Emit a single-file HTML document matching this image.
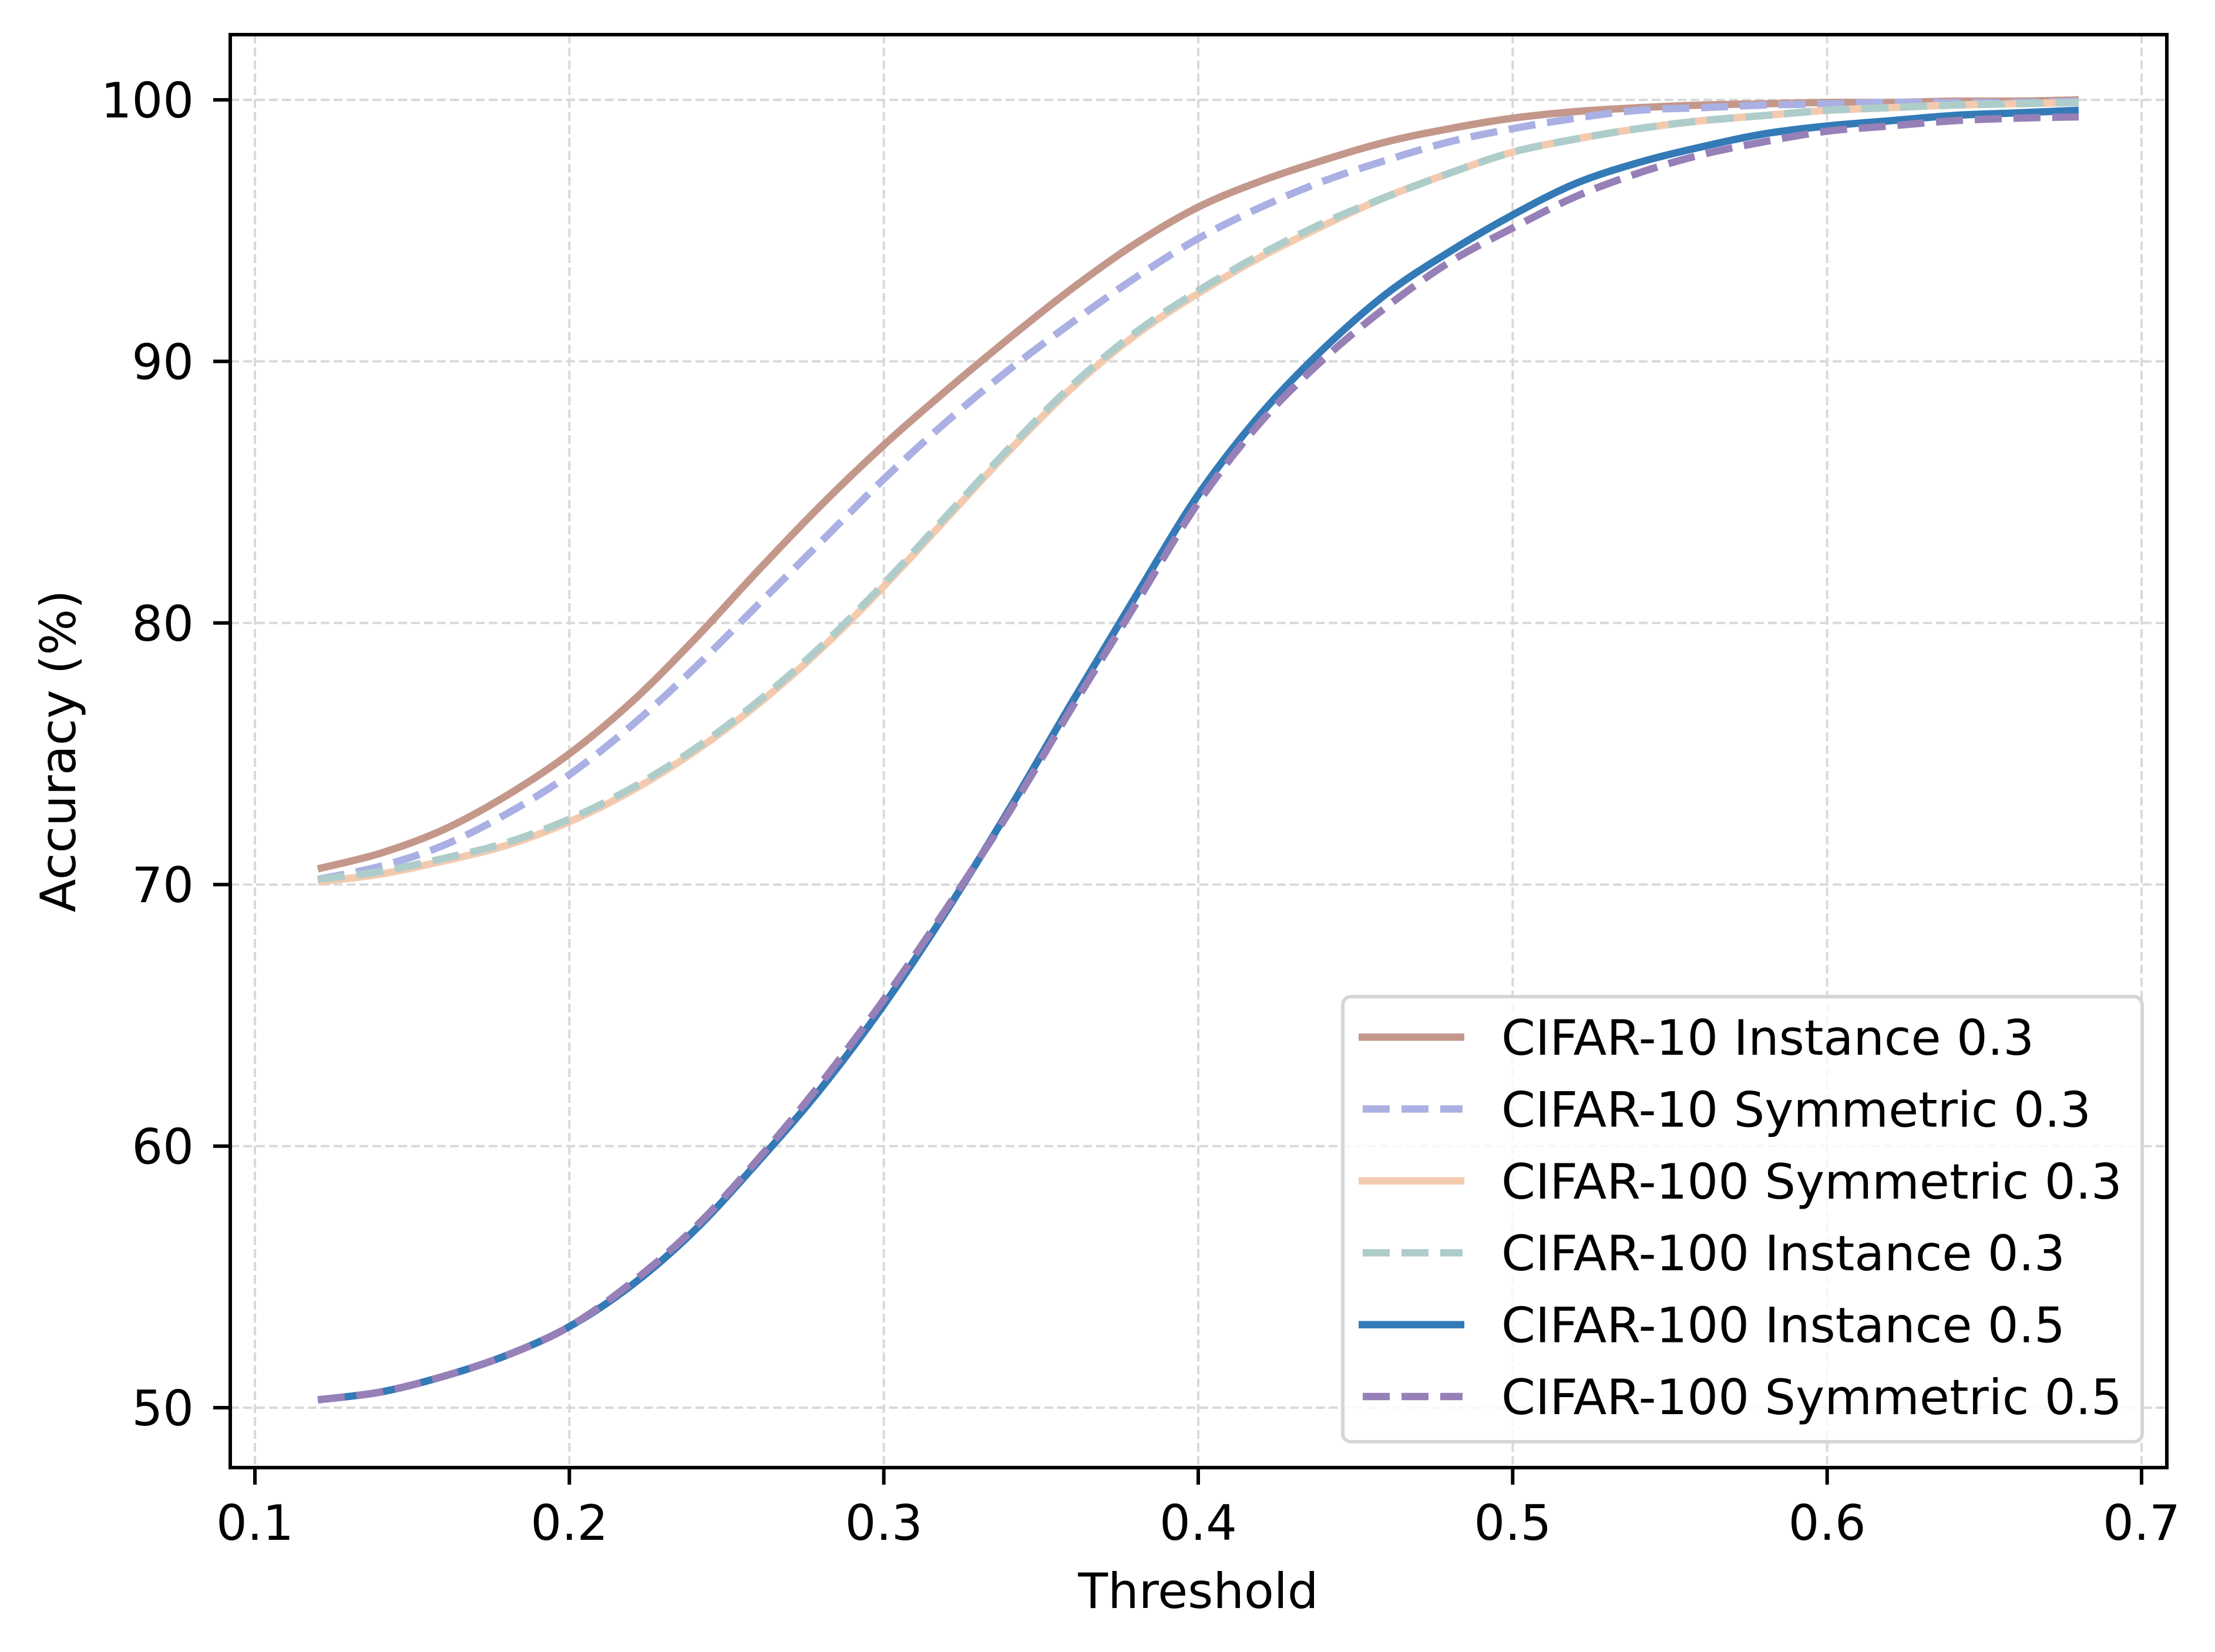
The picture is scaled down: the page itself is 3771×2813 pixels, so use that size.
<!DOCTYPE html>
<html><head><meta charset="utf-8"><style>
html,body{margin:0;padding:0;background:#fff;}
svg{display:block;font-family:"DejaVu Sans","Liberation Sans",sans-serif;}
</style></head><body>
<svg id="chart" width="3771" height="2813" viewBox="0 0 3771 2813" xmlns="http://www.w3.org/2000/svg">
<rect width="3771" height="2813" fill="#fff"/>
<g id="grid"></g>
<g id="series"></g>
<rect x="392" y="59" width="3297" height="2440" fill="none" stroke="#000" stroke-width="6"/>
<g id="ticks"></g>
<text x="2040" y="2738" font-size="83" text-anchor="middle">Threshold</text>
<text x="0" y="0" font-size="83" text-anchor="middle" transform="translate(128,1279) rotate(-90)">Accuracy (%)</text>
<g id="legend"></g>
</svg>
<script>
const xs = [0.12,0.14,0.16,0.18,0.20,0.22,0.24,0.26,0.28,0.30,0.32,0.34,0.36,0.38,0.40,0.42,0.44,0.46,0.48,0.50,0.52,0.54,0.56,0.58,0.60,0.62,0.64,0.66,0.68];
const c10Inst03 = [70.6,71.2,72.1,73.4,75.0,77.0,79.4,82.0,84.5,86.8,88.9,90.9,92.8,94.5,95.9,96.9,97.7,98.4,98.9,99.3,99.55,99.7,99.8,99.85,99.9,99.9,99.95,99.95,100.0];
const c10Sym03 = [70.2,70.7,71.5,72.7,74.2,76.1,78.3,80.7,83.1,85.5,87.7,89.7,91.5,93.2,94.7,95.9,96.9,97.7,98.4,98.9,99.3,99.6,99.7,99.8,99.85,99.9,99.9,99.9,99.95];
const c100Sym03 = [70.1,70.4,70.9,71.5,72.4,73.6,75.1,76.9,79.0,81.4,84.0,86.6,89.0,91.0,92.6,94.0,95.2,96.3,97.2,98.0,98.5,98.9,99.2,99.4,99.6,99.7,99.8,99.85,99.9];
const c100Inst03 = [70.2,70.5,71.0,71.6,72.5,73.7,75.2,77.0,79.1,81.5,84.1,86.7,89.1,91.1,92.7,94.1,95.3,96.3,97.2,98.0,98.5,98.9,99.2,99.4,99.6,99.7,99.8,99.85,99.9];
const c100Inst05 = [50.3,50.6,51.2,52.0,53.1,54.7,56.8,59.4,62.2,65.4,69.0,72.9,77.0,81.0,84.9,88.0,90.5,92.6,94.2,95.6,96.8,97.6,98.2,98.7,99.0,99.2,99.4,99.5,99.6];
const c100Sym05 = [50.3,50.6,51.2,52.0,53.1,54.8,56.9,59.5,62.4,65.6,69.1,72.8,76.8,80.7,84.6,87.7,90.1,92.1,93.8,95.1,96.3,97.2,97.9,98.4,98.8,99.0,99.2,99.3,99.35];
const xTicks = [0.1,0.2,0.3,0.4,0.5,0.6,0.7];
const xTickLabels = ["0.1","0.2","0.3","0.4","0.5","0.6","0.7"];
const yTicks = [50,60,70,80,90,100];
const yTickLabels = ["50","60","70","80","90","100"];
const seriesNames = ["CIFAR-10 Instance 0.3","CIFAR-10 Symmetric 0.3","CIFAR-100 Symmetric 0.3","CIFAR-100 Instance 0.3","CIFAR-100 Instance 0.5","CIFAR-100 Symmetric 0.5"];

const NS = "http://www.w3.org/2000/svg";
function sx(v){ return 434 + (v - 0.1) / 0.1 * 535.33; }
function sy(v){ return 170 + (100 - v) / 10 * 445.4; }
function mk(tag, attrs, parent){ const e = document.createElementNS(NS, tag); for (const k in attrs) e.setAttribute(k, attrs[k]); parent.appendChild(e); return e; }

const grid = document.getElementById('grid');
const ticks = document.getElementById('ticks');
xTicks.forEach((t,i)=>{
  const g = mk('line',{x1:sx(t),x2:sx(t),y1:59,y2:2499,stroke:'#d9d9d9','stroke-width':4,'stroke-dasharray':'15 7'},grid);
  
  
  const tk = mk('line',{x1:sx(t),x2:sx(t),y1:2499,y2:2528,stroke:'#000','stroke-width':6},ticks);
  
  
  const tl = mk('text',{x:sx(t),y:2622,'font-size':83,'text-anchor':'middle'},ticks);
  tl.textContent = xTickLabels[i];
  
  
});
yTicks.forEach((t,i)=>{
  const g = mk('line',{x1:392,x2:3689,y1:sy(t),y2:sy(t),stroke:'#d9d9d9','stroke-width':4,'stroke-dasharray':'15 7'},grid);
  
  
  const tk = mk('line',{x1:363,x2:392,y1:sy(t),y2:sy(t),stroke:'#000','stroke-width':6},ticks);
  
  
  const tl = mk('text',{x:330,y:sy(t)+30,'font-size':83,'text-anchor':'end'},ticks);
  tl.textContent = yTickLabels[i];
  
  
});

function smoothPath(pts){
  let d = 'M' + pts[0][0].toFixed(1) + ',' + pts[0][1].toFixed(1);
  for (let i = 0; i < pts.length - 1; i++) {
    const p0 = pts[Math.max(0, i-1)], p1 = pts[i], p2 = pts[i+1], p3 = pts[Math.min(pts.length-1, i+2)];
    const c1x = p1[0] + (p2[0]-p0[0])/6, c1y = p1[1] + (p2[1]-p0[1])/6;
    const c2x = p2[0] - (p3[0]-p1[0])/6, c2y = p2[1] - (p3[1]-p1[1])/6;
    d += ' C' + c1x.toFixed(1) + ',' + c1y.toFixed(1) + ' ' + c2x.toFixed(1) + ',' + c2y.toFixed(1) + ' ' + p2[0].toFixed(1) + ',' + p2[1].toFixed(1);
  }
  return d;
}

const seriesData = [c10Inst03,c10Sym03,c100Sym03,c100Inst03,c100Inst05,c100Sym05];
const colors = ['#c4978b','#aab0e3','#f4caaf','#aecdca','#337ab7','#9680b7'];
const dashes = [null,'46 20',null,'46 20',null,'46 20'];
const slugs = ['cifar10-instance-03','cifar10-symmetric-03','cifar100-symmetric-03','cifar100-instance-03','cifar100-instance-05','cifar100-symmetric-05'];
const sg = document.getElementById('series');
seriesData.forEach((vals,si)=>{
  const pts = vals.map((v,i)=>[sx(xs[i]), sy(v)]);
  const a = {d:smoothPath(pts),fill:'none',stroke:colors[si],'stroke-width':12.5,'stroke-linejoin':'round'};
  if (dashes[si]) a['stroke-dasharray'] = dashes[si];
  const p = mk('path',a,sg);
  
  
});

const lg = document.getElementById('legend');
const box = mk('rect',{x:2286,y:1697,width:1361,height:758,rx:14,fill:'#fff','fill-opacity':0.8,stroke:'#d6d6d6','stroke-width':6},lg);


seriesNames.forEach((n,si)=>{
  const y = 1766 + si*122.4;
  const a = {x1:2313,x2:2493,y1:y,y2:y,stroke:colors[si],'stroke-width':12.5};
  if (dashes[si]) { a['stroke-dasharray'] = dashes[si]; a.x1 = 2320; a.x2 = 2490; }
  const l = mk('line',a,lg);
  
  
  const t = mk('text',{x:2556,y:y+30,'font-size':83},lg);
  t.textContent = n;
  
  
});
</script>
</body></html>
